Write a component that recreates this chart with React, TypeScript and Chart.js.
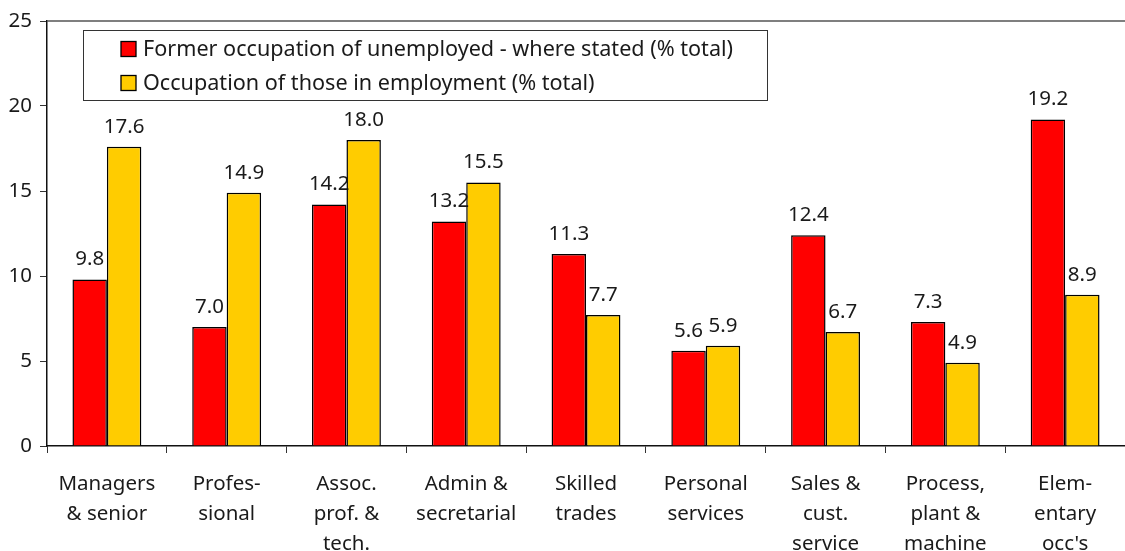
import React, { useEffect, useRef } from "react";
import { Chart, registerables } from "chart.js";

Chart.register(...registerables);

const categories: string[][] = [
  ["Managers", "& senior"],
  ["Profes-", "sional"],
  ["Assoc.", "prof. &", "tech."],
  ["Admin &", "secretarial"],
  ["Skilled", "trades"],
  ["Personal", "services"],
  ["Sales &", "cust.", "service"],
  ["Process,", "plant &", "machine"],
  ["Elem-", "entary", "occ's"],
];

const unemployedFormer = [9.8, 7.0, 14.2, 13.2, 11.3, 5.6, 12.4, 7.3, 19.2];
const employedOccupation = [17.6, 14.9, 18.0, 15.5, 7.7, 5.9, 6.7, 4.9, 8.9];

const seriesLabels = [
  "Former occupation of unemployed - where stated (% total)",
  "Occupation of those in employment (% total)",
];

const yTicks = [0, 5, 10, 15, 20, 25];

const FONT = "'Noto Sans', 'DejaVu Sans', sans-serif";
const TEXT = "#1a1a1a";

const labelsPlugin = {
  id: "valueLabels",
  afterDatasetsDraw(chart: any) {
    const ctx = chart.ctx;
    ctx.save();
    ctx.font = `20.5px ${FONT}`;
    ctx.fillStyle = TEXT;
    ctx.textAlign = "center";
    ctx.textBaseline = "middle";
    chart.data.datasets.forEach((ds: any, i: number) => {
      const meta = chart.getDatasetMeta(i);
      meta.data.forEach((bar: any, j: number) => {
        ctx.fillText(Number(ds.data[j]).toFixed(1), bar.x, bar.y - 20);
      });
    });
    ctx.restore();
  },
};

const frameAndLegendPlugin = {
  id: "frameLegend",
  afterDraw(chart: any) {
    const ctx = chart.ctx;
    const a = chart.chartArea;
    ctx.save();
    // top border
    ctx.strokeStyle = "#555";
    ctx.lineWidth = 1.5;
    ctx.beginPath();
    ctx.moveTo(a.left, a.top);
    ctx.lineTo(a.right, a.top);
    ctx.stroke();
    // legend box
    const bx = 83.5, by = 30.5, bw = 684, bh = 70;
    ctx.fillStyle = "#fff";
    ctx.fillRect(bx, by, bw, bh);
    ctx.strokeStyle = "#333";
    ctx.lineWidth = 1;
    ctx.strokeRect(bx, by, bw, bh);
    ctx.font = `21.6px ${FONT}`;
    ctx.textBaseline = "middle";
    ctx.textAlign = "left";
    chart.data.datasets.forEach((ds: any, i: number) => {
      const cy = 49 + i * 34;
      ctx.fillStyle = ds.backgroundColor;
      ctx.fillRect(121, cy - 7.5, 15, 15);
      ctx.strokeStyle = "#000";
      ctx.lineWidth = 1.3;
      ctx.strokeRect(121, cy - 7.5, 15, 15);
      ctx.fillStyle = TEXT;
      ctx.fillText(ds.label, 143, cy + 1);
    });
    ctx.restore();
  },
};

export default function App() {
  const ref = useRef<HTMLCanvasElement>(null);

  useEffect(() => {
    document.body.style.margin = "0";
    const canvas = ref.current!;
    const chart = new Chart(canvas, {
      type: "bar",
      data: {
        labels: categories,
        datasets: [
          {
            label: seriesLabels[0],
            data: unemployedFormer,
            backgroundColor: "#FF0000",
            borderColor: "#000",
            borderWidth: 1.5,
            categoryPercentage: 0.575,
            barPercentage: 1,
          },
          {
            label: seriesLabels[1],
            data: employedOccupation,
            backgroundColor: "#FFCC00",
            borderColor: "#000",
            borderWidth: 1.5,
            categoryPercentage: 0.575,
            barPercentage: 1,
          },
        ],
      },
      options: {
        responsive: false,
        animation: false,
        layout: { padding: { top: 21, right: 0, left: 0, bottom: 0 } },
        plugins: {
          legend: { display: false },
          tooltip: { enabled: false },
        },
        scales: {
          x: {
            offset: true,
            grid: {
              offset: true,
              drawOnChartArea: false,
              drawTicks: true,
              tickLength: 7,
              color: "#333",
            },
            border: { color: "#111", width: 1.5 },
            ticks: {
              color: TEXT,
              font: { family: FONT, size: 20.5, lineHeight: 1.47 },
              padding: 16,
              maxRotation: 0,
              autoSkip: false,
            },
            afterFit: (s: any) => {
              s.height = 105;
            },
          },
          y: {
            min: 0,
            max: 25,
            afterBuildTicks: (s: any) => {
              s.ticks = yTicks.map((v) => ({ value: v }));
            },
            grid: {
              drawOnChartArea: false,
              drawTicks: true,
              tickLength: 7,
              color: "#333",
            },
            border: { color: "#111", width: 1.5 },
            ticks: {
              color: TEXT,
              font: { family: FONT, size: 20.5 },
              padding: 8,
            },
            afterFit: (s: any) => {
              s.width = 47;
            },
          },
        },
      },
      plugins: [labelsPlugin, frameAndLegendPlugin],
    });
    return () => chart.destroy();
  }, []);

  return (
    <div style={{ position: "absolute", left: 0, top: 0, width: 1125, height: 551, background: "#fff" }}>
      <canvas ref={ref} width={1125} height={551} />
    </div>
  );
}
